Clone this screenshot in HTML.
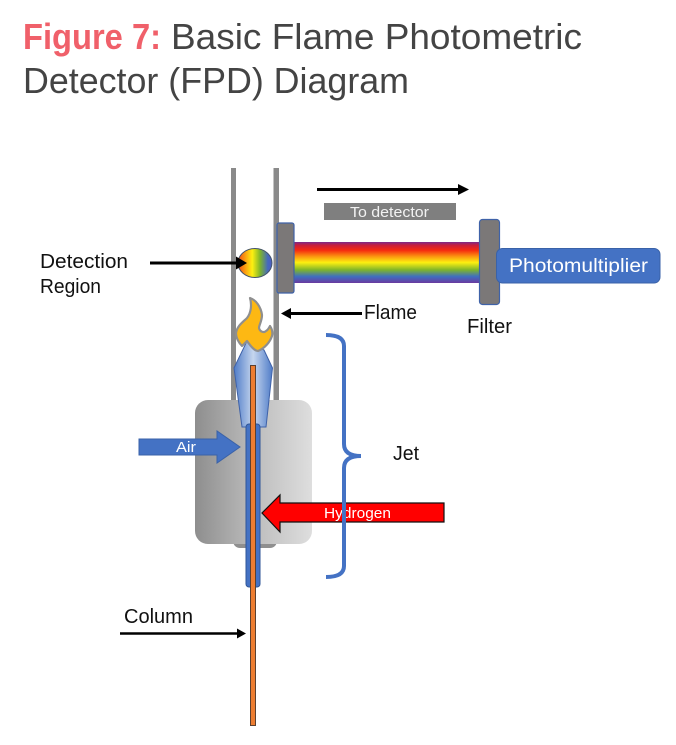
<!DOCTYPE html>
<html>
<head>
<meta charset="utf-8">
<style>
html,body{margin:0;padding:0;background:#fff;}
svg{display:block;}
text{font-family:"Liberation Sans",sans-serif;}
</style>
</head>
<body>
<svg width="676" height="745" viewBox="0 0 676 745" xmlns="http://www.w3.org/2000/svg">
<defs>
<linearGradient id="rb" x1="0" y1="0" x2="0" y2="1">
<stop offset="0" stop-color="#7a2a8a"/>
<stop offset=".08" stop-color="#c81e3c"/>
<stop offset=".2" stop-color="#f52a10"/>
<stop offset=".36" stop-color="#fb9a10"/>
<stop offset=".5" stop-color="#fdf010"/>
<stop offset=".68" stop-color="#7fb52a"/>
<stop offset=".84" stop-color="#3f6fc0"/>
<stop offset="1" stop-color="#6a3aa0"/>
</linearGradient>
<linearGradient id="ell" x1="0" y1="0" x2="1" y2="0">
<stop offset="0" stop-color="#f04a14"/>
<stop offset=".2" stop-color="#fb9a10"/>
<stop offset=".42" stop-color="#fdf010"/>
<stop offset=".65" stop-color="#7fb52a"/>
<stop offset=".88" stop-color="#4468c0"/>
<stop offset="1" stop-color="#4f5fc0"/>
</linearGradient>
<linearGradient id="body" x1="0" y1="0" x2="1" y2="0">
<stop offset="0" stop-color="#8e8e8e"/>
<stop offset=".5" stop-color="#bcbcbc"/>
<stop offset="1" stop-color="#dedede"/>
</linearGradient>
<linearGradient id="cone" x1="0" y1="0" x2="1" y2="0">
<stop offset="0" stop-color="#4f7cc8"/>
<stop offset=".5" stop-color="#c6d6ee"/>
<stop offset="1" stop-color="#4f7cc8"/>
</linearGradient>
</defs>

<!-- Title -->
<text x="23" y="49" font-size="36" font-weight="700" fill="#f0606a" textLength="138" lengthAdjust="spacingAndGlyphs">Figure 7:</text>
<text x="171" y="49" font-size="36" fill="#444" textLength="411" lengthAdjust="spacingAndGlyphs">Basic Flame Photometric</text>
<text x="23" y="93" font-size="36" fill="#444" textLength="386" lengthAdjust="spacingAndGlyphs">Detector (FPD) Diagram</text>

<!-- Tubes -->
<rect x="231" y="168" width="5" height="236" fill="#8a8a8a"/>
<rect x="273.500" y="168" width="5.500" height="236" fill="#8a8a8a"/>

<!-- Rainbow -->
<rect x="293" y="242" width="188" height="41" fill="url(#rb)"/>

<!-- Detection ellipse -->
<ellipse cx="255" cy="263" rx="17" ry="14.500" fill="url(#ell)" stroke="#44546a" stroke-width="1"/>

<!-- Slit and filter -->
<rect x="277" y="223" width="17" height="70" rx="2" fill="#7b7878" stroke="#3f62a8" stroke-width="1.200"/>
<rect x="479.500" y="219.500" width="20" height="85" rx="3" fill="#7b7878" stroke="#3f62a8" stroke-width="1.200"/>

<!-- Photomultiplier -->
<rect x="496.500" y="248.500" width="163.500" height="34.500" rx="6" fill="#4472c4" stroke="#3a62a8" stroke-width="1"/>
<text x="509" y="272" font-size="19" fill="#fff" textLength="139" lengthAdjust="spacingAndGlyphs">Photomultiplier</text>

<!-- To detector -->
<rect x="324" y="203" width="132" height="17" fill="#7f7f7f"/>
<text x="350" y="217" font-size="15" fill="#f2f2f2" textLength="79" lengthAdjust="spacingAndGlyphs">To detector</text>
<path d="M317 189.500H459" stroke="#000" stroke-width="3" fill="none"/>
<path d="M458 184L469 189.500L458 195Z" fill="#000"/>

<!-- Body -->
<rect x="233" y="530" width="44" height="18" rx="7" fill="#8f8f8f"/>
<rect x="195" y="400" width="117" height="144" rx="13" fill="url(#body)"/>

<!-- Cone -->
<path d="M247 341L264 350L272.500 368L266 427H242L234 368Z" fill="url(#cone)" stroke="#3f62a8" stroke-width="1"/>

<!-- Flame -->
<path d="M250 298C256 300 261 307 262 315C262 321 259 325 259 328C260 332 264 333 266 331C268 330 269 328 270 326C272 329 273 332 272 336C270 342 265 348 258 351C255 351 252 348 247 341C245 343 243 345 242 346C239 343 236 338 236 333C237 326 243 322 247 318C251 313 252 305 250 298Z" fill="#fdb813" stroke="#8f8f8f" stroke-width="2.200" stroke-linejoin="round"/>

<!-- Blue tube -->
<rect x="246" y="424" width="14" height="163" rx="3" fill="#4472c4" stroke="#2f5597" stroke-width="1"/>

<!-- Column -->
<rect x="250.500" y="365.500" width="5" height="360" fill="#ed7d31" stroke="#5b4030" stroke-width="1"/>

<!-- Air arrow -->
<path d="M139 439H217V431L240 447L217 463V455H139Z" fill="#4472c4" stroke="#3a62a8" stroke-width="1"/>
<text x="176" y="452" font-size="15" fill="#fff" textLength="20" lengthAdjust="spacingAndGlyphs">Air</text>

<!-- Hydrogen arrow -->
<path d="M444 503H280V495L262 513L280 532V522H444Z" fill="#ff0000" stroke="#111" stroke-width="1.200"/>
<text x="324" y="518" font-size="15" fill="#fff" textLength="67" lengthAdjust="spacingAndGlyphs">Hydrogen</text>

<!-- Bracket -->
<path d="M326 335Q344 335 344 346V444Q344 456 361 456Q344 456 344 468V566Q344 577 326 577" fill="none" stroke="#4472c4" stroke-width="4"/>

<!-- Pointers -->
<path d="M150 263H237" stroke="#000" stroke-width="3" fill="none"/>
<path d="M236 256.500L247 263L236 269.500Z" fill="#000"/>
<path d="M290 313.500H362" stroke="#000" stroke-width="3" fill="none"/>
<path d="M291 308L281 313.500L291 319Z" fill="#000"/>
<path d="M120 633.500H238" stroke="#000" stroke-width="2.500" fill="none"/>
<path d="M237 628.500L246 633.500L237 638.500Z" fill="#000"/>

<!-- Labels -->
<text x="40" y="268" font-size="20" fill="#111" textLength="88" lengthAdjust="spacingAndGlyphs">Detection</text>
<text x="40" y="293" font-size="20" fill="#111" textLength="61" lengthAdjust="spacingAndGlyphs">Region</text>
<text x="364" y="319" font-size="20" fill="#111" textLength="53" lengthAdjust="spacingAndGlyphs">Flame</text>
<text x="467" y="333" font-size="20" fill="#111" textLength="45" lengthAdjust="spacingAndGlyphs">Filter</text>
<text x="393" y="460" font-size="20" fill="#111" textLength="26" lengthAdjust="spacingAndGlyphs">Jet</text>
<text x="124" y="623" font-size="20" fill="#111" textLength="69" lengthAdjust="spacingAndGlyphs">Column</text>
</svg>
</body>
</html>
